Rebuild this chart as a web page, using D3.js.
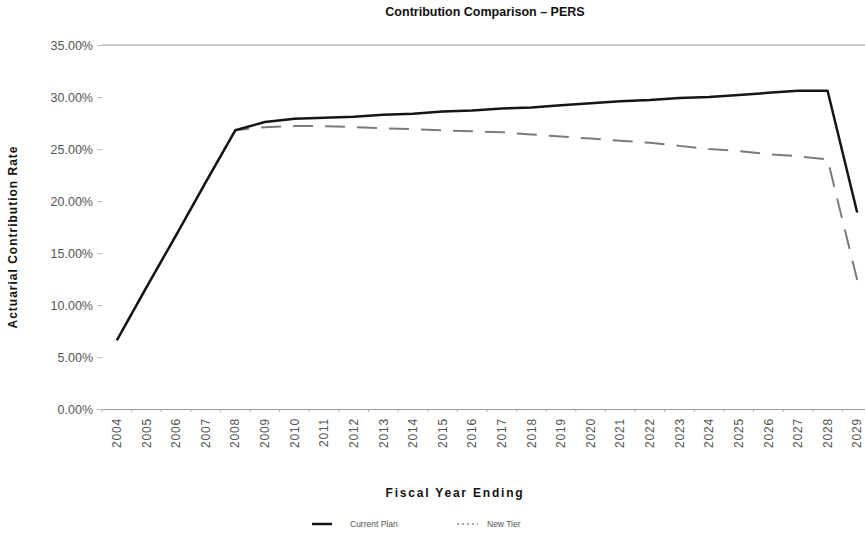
<!DOCTYPE html>
<html>
<head>
<meta charset="utf-8">
<script src="https://cdn.jsdelivr.net/npm/d3@7"></script>
<style>
  html, body { margin: 0; padding: 0; background: #fff; }
  svg { display: block; font-family: Arial, "Liberation Sans", sans-serif; }
</style>
</head>
<body>
<svg id="chart" width="865" height="538"></svg>
<script>
// Fiscal years and actuarial contribution rates (percent)
const years = ["2004","2005","2006","2007","2008","2009","2010","2011","2012","2013","2014","2015","2016",
               "2017","2018","2019","2020","2021","2022","2023","2024","2025","2026","2027","2028","2029"];
const currentPlan = [6.6, 11.7, 16.7, 21.8, 26.8, 27.6, 27.9, 28.0, 28.1, 28.3, 28.4, 28.6, 28.7,
                     28.9, 29.0, 29.2, 29.4, 29.6, 29.7, 29.9, 30.0, 30.2, 30.4, 30.6, 30.6, 18.9];
const newTier     = [6.6, 11.7, 16.7, 21.8, 26.8, 27.1, 27.2, 27.2, 27.1, 27.0, 26.9, 26.8, 26.7,
                     26.6, 26.4, 26.2, 26.0, 25.8, 25.6, 25.3, 25.0, 24.8, 24.5, 24.3, 24.0, 12.4];
const yTicks = [0, 5, 10, 15, 20, 25, 30, 35];

const svg = d3.select("#chart");
const plot = { left: 102, right: 872, top: 45, bottom: 409 };

const x = d3.scaleBand().domain(years).range([plot.left, plot.right]);
const y = d3.scaleLinear().domain([0, 35]).range([plot.bottom, plot.top]);
const cx = d => x(d) + x.bandwidth() / 2;

// Top border of the plot area at 35%
svg.append("line")
  .attr("x1", plot.left).attr("x2", 865)
  .attr("y1", y(35)).attr("y2", y(35))
  .attr("stroke", "#9a9a9a").attr("stroke-width", 1.2);

// Y axis
const yAxis = d3.axisLeft(y).tickValues(yTicks).tickSize(5).tickSizeOuter(0)
  .tickFormat(d => d.toFixed(2) + "%");
const gy = svg.append("g").attr("transform", `translate(${plot.left},0)`).call(yAxis);
gy.select(".domain").remove();
gy.selectAll(".tick line").attr("stroke", "#bbb");
gy.selectAll(".tick text").attr("fill", "#555").attr("font-size", 12.5).attr("x", -9);

// X axis
const xAxis = d3.axisBottom(x).tickSize(0).tickSizeOuter(0);
const gx = svg.append("g").attr("transform", `translate(0,${plot.bottom})`).call(xAxis);
gx.select(".domain").attr("stroke", "#999").attr("stroke-width", 1);
gx.selectAll(".tick text")
  .attr("fill", "#555").attr("font-size", 12)
  .attr("letter-spacing", 0.8)
  .attr("transform", "rotate(-90)")
  .attr("text-anchor", "end")
  .attr("x", -9).attr("y", 0).attr("dy", "0.35em");
// small marks between categories
svg.append("g").selectAll("line")
  .data(years)
  .join("line")
  .attr("x1", d => x(d)).attr("x2", d => x(d))
  .attr("y1", plot.bottom).attr("y2", plot.bottom + 3)
  .attr("stroke", "#aaa");

// Series lines
const line = d3.line().x((d, i) => cx(years[i])).y(d => y(d));

const dash = 20, gap = 12;
const tierPath = svg.append("path")
  .datum(newTier)
  .attr("d", line)
  .attr("fill", "none")
  .attr("stroke", "#7a7a7a")
  .attr("stroke-width", 2)
  .attr("stroke-dasharray", `${dash},${gap}`);
// shift the dash pattern so the line ends on a dash at the last year
const len = tierPath.node().getTotalLength();
const period = dash + gap;
tierPath.attr("stroke-dashoffset", ((dash - (len % period)) % period + period) % period);

svg.append("path")
  .datum(currentPlan)
  .attr("d", line)
  .attr("fill", "none")
  .attr("stroke", "#151515")
  .attr("stroke-width", 2.5)
  .attr("stroke-linejoin", "round");

// Titles
svg.append("text")
  .attr("x", 485).attr("y", 16)
  .attr("text-anchor", "middle")
  .attr("font-size", 12.5).attr("font-weight", "bold").attr("fill", "#111")
  .text("Contribution Comparison \u2013 PERS");

svg.append("text")
  .attr("x", 455).attr("y", 497)
  .attr("text-anchor", "middle")
  .attr("font-size", 12).attr("font-weight", "bold").attr("fill", "#111")
  .attr("letter-spacing", 1.8)
  .text("Fiscal Year Ending");

svg.append("text")
  .attr("transform", "translate(17,237) rotate(-90)")
  .attr("text-anchor", "middle")
  .attr("font-size", 12).attr("font-weight", "bold").attr("fill", "#111")
  .attr("letter-spacing", 1)
  .text("Actuarial Contribution Rate");

// Legend
const legend = svg.append("g").attr("transform", "translate(312,524)");
legend.append("line").attr("x1", 0).attr("x2", 20).attr("y1", 0).attr("y2", 0)
  .attr("stroke", "#151515").attr("stroke-width", 2.5);
legend.append("text").attr("x", 38).attr("y", 3)
  .attr("font-size", 8.5).attr("fill", "#555").text("Current Plan");
legend.append("line").attr("x1", 145).attr("x2", 166).attr("y1", 0).attr("y2", 0)
  .attr("stroke", "#8a8a8a").attr("stroke-width", 1.5).attr("stroke-dasharray", "2,3");
legend.append("text").attr("x", 175).attr("y", 3)
  .attr("font-size", 8.5).attr("fill", "#555").text("New Tier");
</script>
</body>
</html>
